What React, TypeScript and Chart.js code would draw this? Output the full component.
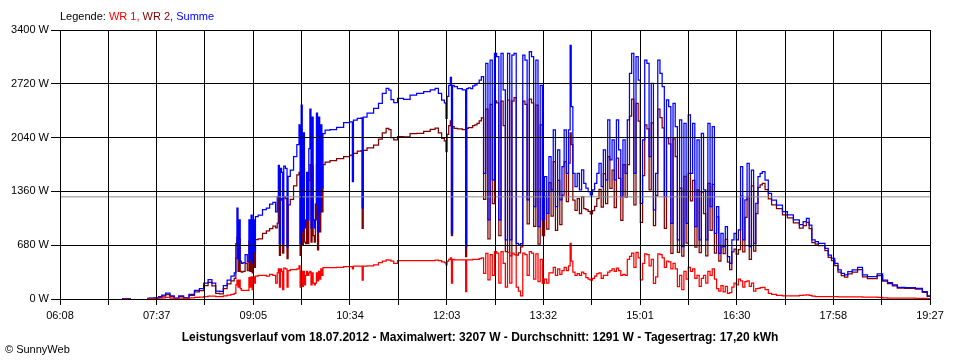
import React, { useEffect, useRef } from "react";
import { Chart, registerables } from "chart.js";

Chart.register(...registerables);

// ---- data (time in minutes since midnight, power in W) ----
const times = [
  425, 429, 433, 434, 448, 452, 457, 460, 463, 467, 471, 475, 479, 484, 489, 494, 498, 502, 506, 509, 513, 516, 520, 523, 527, 529,
  530, 531, 532, 533, 534, 535, 537, 539, 541, 542, 543, 544, 545, 546, 547, 548, 552, 556, 559, 562,
  565, 567, 568, 569, 570, 571, 572, 573, 574, 576, 577, 578, 581, 584, 587, 588, 589, 590, 591, 592,
  593, 594, 595, 596, 597, 598, 599, 600, 601, 602, 603, 604, 605, 606, 607, 608, 609, 610,
  613, 619, 625, 632, 636, 637, 638, 644, 645, 646, 647, 653, 659, 662, 666, 669, 671, 673, 676, 680,
  687, 692, 699, 705, 711, 714, 717, 720, 722, 723, 724, 726, 727, 728, 729, 731, 735, 740, 741, 742, 744,
  746, 748, 750, 752, 754, 756, 758, 760, 762, 764, 766, 768, 770, 772, 774, 776, 778, 780, 782, 784,
  786, 788, 790, 792, 794, 796, 798, 800, 802, 804, 806, 808, 810, 812, 814, 816, 818, 820, 822, 824,
  826, 828, 830, 832, 834, 836, 837, 838,
  840, 842, 844, 846, 848, 850, 852, 854, 856, 858, 860, 862, 864, 866, 868, 870, 872, 874, 876, 878,
  880, 882, 884, 886, 888, 890, 892, 894, 896, 898, 900, 902, 904, 906, 908, 910, 912, 914, 916, 918,
  920, 922, 924, 926, 928, 930, 932, 934, 936, 938, 940, 942, 944, 946, 948, 950, 952, 954, 956, 958,
  960, 962, 964, 966, 968, 970, 972, 974, 976, 978, 980, 982, 984, 986, 988, 990, 992, 994, 996, 998,
  1000, 1002, 1004, 1006, 1008, 1010, 1012,
  1014, 1017, 1020, 1023, 1029, 1034, 1038, 1045, 1049, 1052, 1055, 1057, 1060, 1063, 1066, 1069, 1072, 1075, 1078, 1081,
  1084, 1087, 1090, 1093, 1098, 1103, 1107, 1112, 1116, 1121, 1126, 1130, 1135, 1139, 1149, 1158, 1162, 1167,
];

const summe = [
  5, 6, 5, null, 8, 10, 15, 30, 50, 75, 40, 10, 40, 15, 60, 110, 130, 200, 245, 200, 100, 95, 170, 240, 290, 330,
  700, 1150, 500, 1000, 480, 450, 460, 560, 470, 1000, 500, 1060, 450, 1000, 600, 1040, 1060, 1130, 1150, 1200,
  1220, 1100, 1290, 1690, 700, 1650, 1600, 700, 1680, 1650, 660, 1550, 1630, 1800, 1950, 2200, 700, 2450, 850, 2100,
  900, 1000, 1600, 1000, 1900, 2400, 900, 2300, 1000, 900, 1200, 2350, 850, 2300, 1100, 2200, 1400, 2090,
  2136, 2140, 2170, 2229, 2240, 1483, 2260, 2284, 2290, 1150, 2300, 2350, 2410, 2474, 2600, 2663, 2640, 2520, 2482, 2537,
  2524, 2578, 2600, 2620, 2642, 2663, 2600, 2515, 2480, 2284, 2560, 2700, 2800, 830, 2700, 2683, 2660, 2642, 661, 2660, 2670,
  2660, 2693, 2705, 2726, 2768, 2810, 1589, 2979, 1000, 3020, 1505, 3105, 3063, 1000, 3105, 2642, 746, 3105, 746, 3084,
  3105, 704, 683, 700, 3084, 3020, 1252, 3126, 3063, 1167, 3020, 915, 2700, 1000, 1547, 1083, 1800, 1378, 2137, 1167,
  1884, 1252, 1673, 2137, 1589, 2137, 3207, 2431,
  1589, 1420, 1589, 1378, 1631, 1462, 1400, 1357, 1315, 1378, 1462, 1589, 1715, 1420, 1884, 1505, 2263, 1757, 2010, 1505,
  2263, 1884, 1294, 2010, 1589, 2263, 2853, 3105, 1589, 3063, 2768, 1210, 2010, 3020, 2979, 1799, 2726, 1125, 1589, 3020,
  2853, 2684, 1294, 2516, 2431, 957, 2474, 2179, 746, 2263, 662, 2221, 957, 2326, 1589, 2221, 915, 2010, 746, 2094,
  1378, 746, 2221, 1167, 2179, 830, 1167, 578, 830, 662, 915, 536, 450, 746, 830, 746, 873, 1673, 746, 1252,
  1715, 662, 1630, 704, 1209, 1546, 1588,
  1610, 1504, 1336, 1251, 1188, 1104, 1062, 999, 940, 978, 1020, 935, 746, 725, 704, 704, 641, 556, 514, 451,
  367, 325, 304, 346, 367, 400, 304, 283, 283, 316, 240, 207, 177, 148, 144, 135, 93, 38,
];

const wr1 = [
  0, 0, 0, null, 2, 3, 5, 10, 15, 20, 10, 3, 10, 5, 15, 20, 25, 30, 35, 35, 30, 30, 40, 50, 60, 70,
  180, 240, 150, 240, 130, 110, 110, 110, 110, 270, 150, 280, 120, 280, 200, 290, 300, 300, 290, 310,
  300, 200, 330, 380, 150, 380, 350, 120, 390, 380, 150, 360, 370, 370, 380, 420, 150, 350, 160, 350,
  180, 300, 350, 300, 330, 350, 180, 330, 200, 180, 200, 330, 230, 350, 250, 380, 300, 395,
  396, 396, 400, 410, 410, 380, 415, 417, 417, 240, 417, 420, 430, 460, 480, 493, 490, 480, 450, 484,
  484, 484, 484, 484, 484, 490, 484, 470, 460, 430, 480, 500, 520, 200, 500, 493, 493, 493, 92, 493, 495,
  493, 500, 500, 500, 510, 520, 325, 578, 241, 560, 300, 600, 580, 200, 600, 450, 150, 590, 200, 580,
  560, 150, 100, 40, 580, 560, 300, 600, 580, 250, 570, 220, 500, 199, 250, 200, 330, 330, 400, 300,
  380, 310, 360, 400, 360, 420, 704, 480,
  340, 300, 320, 300, 340, 320, 270, 250, 240, 260, 290, 320, 330, 261, 300, 300, 340, 360, 380, 350,
  390, 360, 300, 310, 300, 500, 540, 580, 400, 590, 520, 241, 450, 570, 560, 420, 500, 199, 280, 570,
  560, 520, 400, 480, 470, 380, 450, 380, 156, 300, 120, 350, 250, 400, 350, 380, 260, 300, 160, 260,
  300, 200, 350, 300, 380, 250, 130, 100, 170, 90, 160, 70, 80, 150, 200, 180, 250, 230, 150, 220,
  230, 160, 200, 100, 130, 135, 145,
  148, 120, 72, 60, 45, 40, 38, 38, 45, 50, 51, 45, 35, 30, 30, 30, 30, 30, 30, 30,
  28, 28, 28, 28, 28, 28, 25, 25, 25, 20, 15, 12, 10, 10, 10, 9, 8, 5,
];

const wr2 = [
  5, 6, 5, null, 6, 7, 10, 20, 35, 55, 30, 7, 30, 10, 45, 90, 105, 170, 210, 165, 70, 65, 130, 190, 230, 260,
  520, 780, 350, 760, 350, 340, 350, 450, 360, 730, 350, 780, 330, 720, 400, 750, 760, 830, 860, 890,
  920, 900, 960, 1290, 550, 1270, 1250, 580, 1290, 1270, 510, 1190, 1260, 1430, 1570, 1600, 550, 1700, 690, 1650,
  720, 700, 1250, 700, 1500, 1700, 720, 1680, 800, 720, 1000, 1700, 620, 1650, 850, 1700, 1100, 1700,
  1730, 1750, 1775, 1800, 1820, 1810, 1840, 1870, 1875, 894, 1880, 1910, 1946, 2020, 2100, 2157, 2140, 2040, 2010, 2051,
  2050, 2090, 2094, 2120, 2145, 2160, 2100, 2030, 2000, 1862, 2080, 2190, 2250, 800, 2180, 2157, 2150, 2140, 535, 2157, 2165,
  2167, 2190, 2200, 2220, 2250, 2290, 1260, 2400, 760, 2460, 1205, 2505, 2480, 800, 2500, 2190, 600, 2515, 546, 2500,
  2545, 554, 583, 660, 2500, 2460, 950, 2526, 2480, 917, 2450, 695, 2200, 800, 1297, 883, 1470, 1048, 1737, 867,
  1500, 940, 1313, 1737, 1230, 1717, 2100, 1950,
  1250, 1120, 1270, 1078, 1290, 1142, 1130, 1107, 1075, 1118, 1172, 1270, 1385, 1160, 1584, 1205, 1800, 1397, 1630, 1155,
  1780, 1524, 994, 1700, 1289, 1700, 2313, 2525, 1189, 2473, 2248, 969, 1560, 2200, 2150, 1379, 2226, 926, 1309, 2400,
  2293, 2164, 894, 2036, 1961, 577, 2024, 1799, 590, 1400, 542, 1550, 707, 1589, 1239, 1500, 655, 1378, 586, 1350,
  1078, 546, 1460, 867, 1450, 580, 1037, 478, 660, 572, 755, 466, 370, 596, 630, 566, 623, 1300, 596, 1032,
  1294, 502, 1430, 604, 1080, 1411, 1443,
  1462, 1384, 1264, 1191, 1143, 1064, 1024, 961, 895, 928, 969, 890, 711, 695, 674, 674, 611, 526, 484, 421,
  339, 297, 276, 318, 339, 372, 279, 258, 258, 296, 225, 195, 167, 138, 134, 126, 85, 33,
];

const average = 1291;
const xTickLabels = ["06:08", "07:37", "09:05", "10:34", "12:03", "13:32", "15:01", "16:30", "17:58", "19:27"];
const yTickStep = 680;
const yMax = 3400;
const legendLabel = "Legende:";
const seriesNames = ["WR 1", "WR 2", "Summe"];
const titleText =
  "Leistungsverlauf vom 18.07.2012 - Maximalwert: 3207 W - Durchschnitt: 1291 W - Tagesertrag: 17,20 kWh";
const copyright = "© SunnyWeb";

const FONT = '"Liberation Sans", Arial, sans-serif';
const COL_WR1 = "#FF0000";
const COL_WR2 = "#800000";
const COL_SUM = "#0000FF";

const toMin = (s: string) => {
  const [h, m] = s.split(":").map(Number);
  return h * 60 + m;
};

export default function App() {
  const ref = useRef<HTMLCanvasElement>(null);

  useEffect(() => {
    const canvas = ref.current;
    if (!canvas) return;
    const xMin = toMin(xTickLabels[0]);
    const xMax = toMin(xTickLabels[xTickLabels.length - 1]);
    const pts = (arr: (number | null)[]) => times.map((t, i) => ({ x: t, y: arr[i] }));
    const line = (label: string, arr: (number | null)[], color: string) => ({
      label,
      data: pts(arr),
      borderColor: color,
      backgroundColor: color,
      borderWidth: 1.25,
      pointRadius: 0,
      stepped: "middle",
      spanGaps: false,
      fill: false,
    });

    // dataset index 0 is drawn on top
    const chart = new Chart(canvas, {
      type: "line",
      data: {
        datasets: [
          {
            label: "Durchschnitt",
            data: [
              { x: xMin, y: average },
              { x: xMax, y: average },
            ],
            borderColor: "#8c8c8c",
            borderWidth: 1,
            pointRadius: 0,
            fill: false,
          },
          line(seriesNames[0], wr1, COL_WR1),
          line(seriesNames[2], summe, COL_SUM),
          line(seriesNames[1], wr2, COL_WR2),
        ],
      },
      options: {
        responsive: false,
        animation: false,
        devicePixelRatio: 1,
        events: [],
        layout: { padding: { left: 0, right: 30, top: 30, bottom: 0 } },
        plugins: {
          legend: { display: false },
          tooltip: { enabled: false },
          title: { display: false },
        },
        scales: {
          x: {
            type: "linear",
            min: xMin,
            max: xMax,
            afterFit: (s: any) => {
              s.height = 61;
            },
            afterBuildTicks: (s: any) => {
              const n = (xTickLabels.length - 1) * 2;
              s.ticks = Array.from({ length: n + 1 }, (_, i) => ({ value: xMin + (i * (xMax - xMin)) / n }));
            },
            ticks: {
              autoSkip: false,
              maxRotation: 0,
              minRotation: 0,
              color: "#000",
              padding: 4,
              font: { family: FONT, size: 11 },
              callback: (_v: any, i: number) => (i % 2 === 0 ? xTickLabels[i / 2] : ""),
            },
            grid: { color: "#000", lineWidth: 1, tickLength: 6, z: 1, drawTicks: true },
            border: { color: "#000", width: 1, z: 1 },
          },
          y: {
            min: 0,
            max: yMax,
            afterFit: (s: any) => {
              s.width = 60;
            },
            ticks: {
              stepSize: yTickStep,
              color: "#000",
              padding: 2,
              font: { family: FONT, size: 11 },
              callback: (v: any) => `${v} W`,
            },
            grid: { color: "#000", lineWidth: 1, tickLength: 9, z: 1, drawTicks: true },
            border: { color: "#000", width: 1, z: 1 },
          },
        },
      },
    } as any);
    return () => chart.destroy();
  }, []);

  return (
    <div
      style={{
        position: "absolute",
        left: 0,
        top: 0,
        width: 960,
        height: 360,
        background: "#fff",
        fontFamily: FONT,
        fontSize: 11,
        color: "#000",
      }}
    >
      <canvas ref={ref} width={960} height={360} style={{ display: "block", width: 960, height: 360 }} />
      <div style={{ position: "absolute", left: 60, top: 10, lineHeight: "13px", whiteSpace: "nowrap" }}>
        {legendLabel} <span style={{ color: COL_WR1 }}>{seriesNames[0]},</span>{" "}
        <span style={{ color: COL_WR2 }}>{seriesNames[1]},</span>{" "}
        <span style={{ color: COL_SUM }}>{seriesNames[2]}</span>
      </div>
      <div
        style={{
          position: "absolute",
          left: 0,
          width: 960,
          top: 330,
          textAlign: "center",
          fontWeight: "bold",
          fontSize: 12,
          lineHeight: "14px",
          whiteSpace: "nowrap",
        }}
      >
        {titleText}
      </div>
      <div style={{ position: "absolute", left: 5, top: 343, lineHeight: "13px", whiteSpace: "nowrap" }}>
        {copyright}
      </div>
    </div>
  );
}
